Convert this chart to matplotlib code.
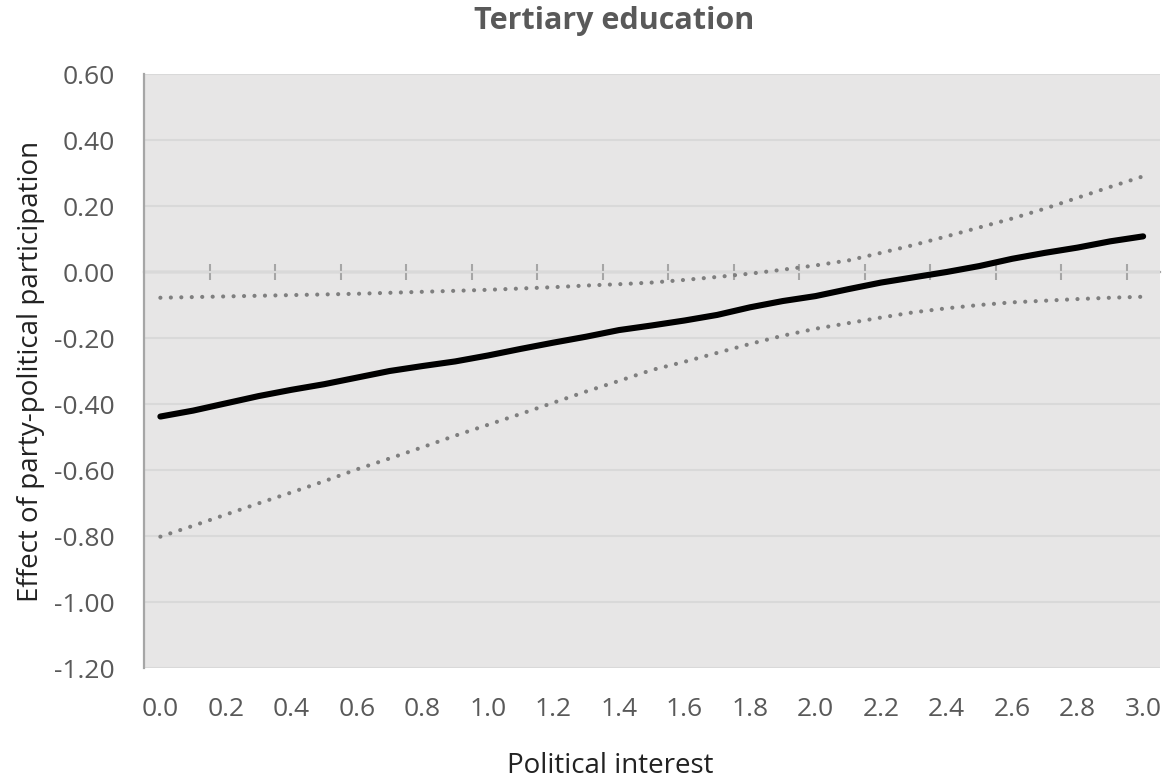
import matplotlib
matplotlib.use("Agg")
import matplotlib.pyplot as plt

plt.rcParams['font.family'] = ['Open Sans', 'DejaVu Sans']

# political interest categories 0.0 .. 3.0
interest = ['0.0', '0.1', '0.2', '0.3', '0.4', '0.5', '0.6', '0.7', '0.8', '0.9',
            '1.0', '1.1', '1.2', '1.3', '1.4', '1.5', '1.6', '1.7', '1.8', '1.9',
            '2.0', '2.1', '2.2', '2.3', '2.4', '2.5', '2.6', '2.7', '2.8', '2.9', '3.0']

# marginal effect and confidence bounds
effect = [-0.438, -0.420, -0.398, -0.376, -0.357, -0.340, -0.320, -0.300, -0.285, -0.271,
          -0.253, -0.233, -0.214, -0.196, -0.176, -0.162, -0.147, -0.130, -0.107, -0.088,
          -0.073, -0.052, -0.032, -0.016, 0.000, 0.018, 0.040, 0.058, 0.074, 0.093, 0.108]
upper = [-0.078, -0.076, -0.074, -0.072, -0.070, -0.068, -0.066, -0.063, -0.060, -0.057,
         -0.054, -0.050, -0.046, -0.041, -0.037, -0.032, -0.024, -0.015, -0.005, 0.007,
         0.020, 0.035, 0.058, 0.082, 0.108, 0.135, 0.162, 0.192, 0.225, 0.258, 0.290]
lower = [-0.802, -0.769, -0.735, -0.701, -0.668, -0.634, -0.598, -0.565, -0.531, -0.496,
         -0.463, -0.430, -0.396, -0.362, -0.330, -0.297, -0.272, -0.245, -0.218, -0.193,
         -0.172, -0.155, -0.138, -0.122, -0.110, -0.100, -0.092, -0.087, -0.082, -0.078, -0.075]

y_ticks = [-1.2, -1.0, -0.8, -0.6, -0.4, -0.2, 0.0, 0.2, 0.4, 0.6]

W, H = 1166, 780
fig = plt.figure(figsize=(W / 100, H / 100), dpi=100)
ax = fig.add_axes([144 / W, 1 - 668 / H, (1159.5 - 144) / W, (668 - 74) / H])
ax.set_facecolor('#e7e6e6')

x = list(range(len(interest)))
ax.plot(x, upper, color='#7f7f7f', lw=3.0, linestyle=(0, (0.01, 2.5)),
        dash_capstyle='round', zorder=3)
ax.plot(x, lower, color='#7f7f7f', lw=3.0, linestyle=(0, (0.01, 2.5)),
        dash_capstyle='round', zorder=3)
ax.plot(x, effect, color='black', lw=4.4, solid_capstyle='round', zorder=4)

ax.set_xlim(-0.5, len(interest) - 0.5)
ax.set_ylim(-1.2, 0.6)

# y axis
ax.set_yticks(y_ticks)
ax.set_yticklabels([f"{v:.2f}" for v in y_ticks])
ax.tick_params(axis='y', length=0, pad=21, labelsize=19, labelcolor='#595959')
ax.grid(axis='y', color='#d9d9d9', lw=1.5)
ax.set_axisbelow(True)

# x labels at the bottom (every second category)
ax.set_xticks(x[::2])
ax.set_xticklabels(interest[::2])
ax.tick_params(axis='x', length=0, pad=21, labelsize=19, labelcolor='#595959')

for s in ['top', 'right', 'bottom']:
    ax.spines[s].set_visible(False)
ax.spines['left'].set_color('#a6a6a6')
ax.spines['left'].set_linewidth(1.6)

# category axis crossing at zero with tick marks between categories
zero_pos = (0 - (-1.2)) / (0.6 - (-1.2))
sec = ax.secondary_xaxis(zero_pos)
sec.set_xticks([i + 0.5 for i in x[1:-1:2]])
sec.set_xticklabels([])
sec.tick_params(direction='inout', length=12, width=1.5, color='#a6a6a6')
for s in sec.spines.values():
    s.set_color('#a6a6a6')
    s.set_linewidth(1.6)

fig.text(614 / W, 1 - 29 / H, 'Tertiary education', ha='center', va='baseline',
         fontsize=22, fontweight='bold', color='#595959')
fig.text(610 / W, 1 - 773 / H, 'Political interest', ha='center', va='baseline',
         fontsize=20, color='#222222')
fig.text(17 / W, 1 - 371 / H, 'Effect of party-political participation', ha='left',
         va='center', rotation=90, fontsize=20, color='#222222')

fig.savefig('out.png', dpi=100)
